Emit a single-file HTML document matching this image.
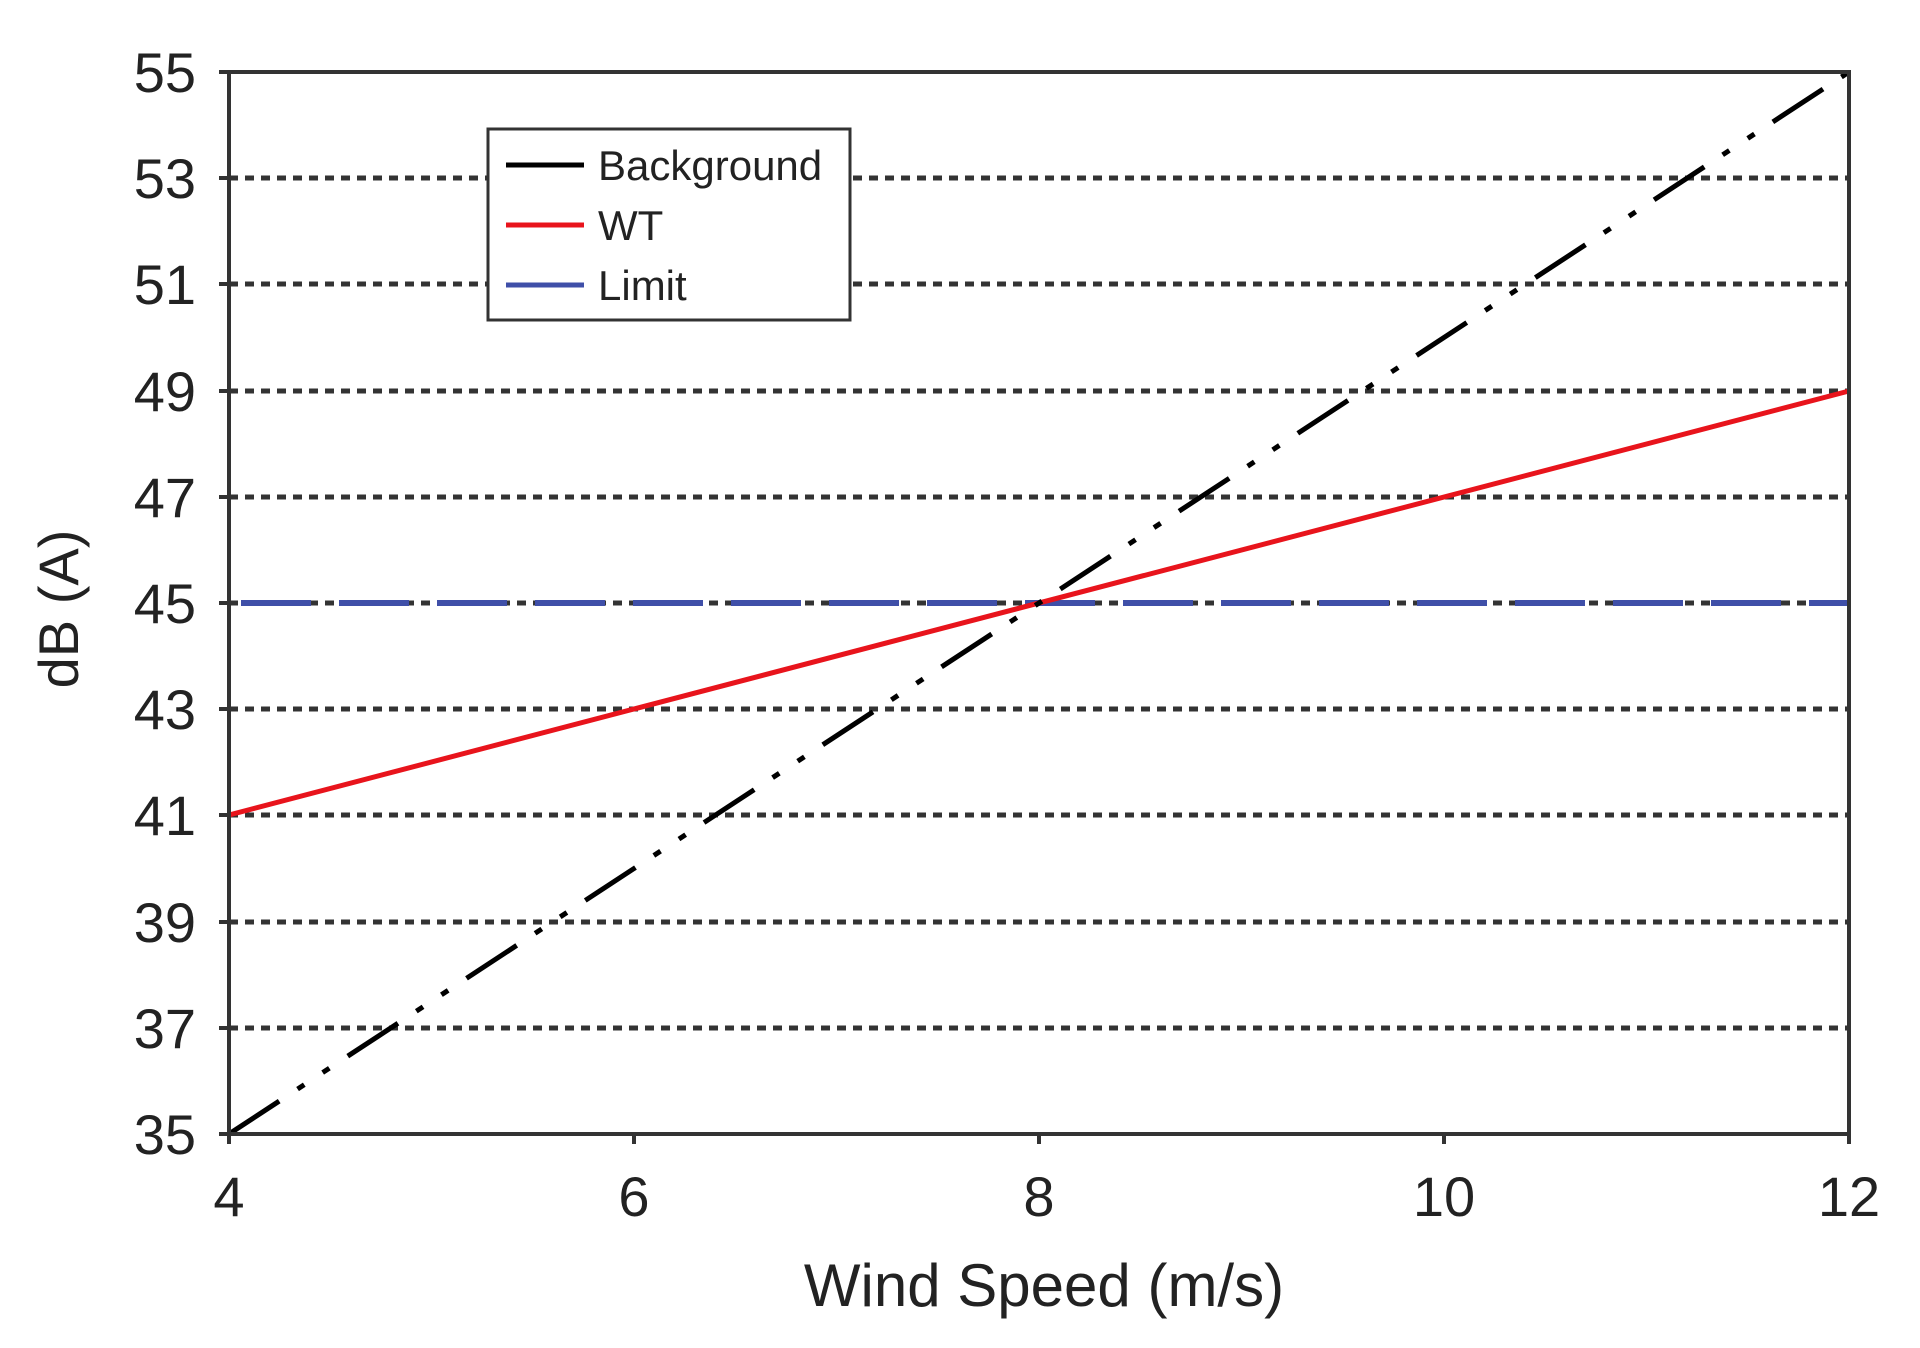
<!DOCTYPE html>
<html><head><style>
html,body{margin:0;padding:0;background:#fff;}
svg{display:block;}
text{font-family:"Liberation Sans",Arial,sans-serif;fill:#222;}
</style></head><body>
<svg width="1920" height="1348" viewBox="0 0 1920 1348">
<g stroke="#333" stroke-width="5" stroke-dasharray="9,7">
<line x1="229" y1="178" x2="1849" y2="178"/>
<line x1="229" y1="284" x2="1849" y2="284"/>
<line x1="229" y1="391" x2="1849" y2="391"/>
<line x1="229" y1="497" x2="1849" y2="497"/>
<line x1="229" y1="603" x2="1849" y2="603"/>
<line x1="229" y1="709" x2="1849" y2="709"/>
<line x1="229" y1="815" x2="1849" y2="815"/>
<line x1="229" y1="922" x2="1849" y2="922"/>
<line x1="229" y1="1028" x2="1849" y2="1028"/>
</g>
<line x1="229" y1="603" x2="1849" y2="603" stroke="#3f4fa8" stroke-width="6" stroke-dasharray="70,28" stroke-dashoffset="-12"/>
<line x1="229" y1="815" x2="1849" y2="391" stroke="#e8141c" stroke-width="5"/>
<line x1="229" y1="1134" x2="1849" y2="72" stroke="#000" stroke-width="5" stroke-dasharray="60,22,8,22,8,22"/>
<rect x="229" y="72" width="1620" height="1062" fill="none" stroke="#333" stroke-width="4"/>
<g stroke="#333" stroke-width="4">
<line x1="219" y1="72" x2="229" y2="72"/><line x1="219" y1="178" x2="229" y2="178"/><line x1="219" y1="284" x2="229" y2="284"/><line x1="219" y1="391" x2="229" y2="391"/><line x1="219" y1="497" x2="229" y2="497"/><line x1="219" y1="603" x2="229" y2="603"/><line x1="219" y1="709" x2="229" y2="709"/><line x1="219" y1="815" x2="229" y2="815"/><line x1="219" y1="922" x2="229" y2="922"/><line x1="219" y1="1028" x2="229" y2="1028"/><line x1="219" y1="1134" x2="229" y2="1134"/>
<line x1="229" y1="1134" x2="229" y2="1144"/><line x1="634" y1="1134" x2="634" y2="1144"/><line x1="1039" y1="1134" x2="1039" y2="1144"/><line x1="1444" y1="1134" x2="1444" y2="1144"/><line x1="1849" y1="1134" x2="1849" y2="1144"/>
</g>
<g font-size="56" text-anchor="end">
<text x="196" y="92">55</text><text x="196" y="198">53</text><text x="196" y="304">51</text><text x="196" y="411">49</text><text x="196" y="517">47</text><text x="196" y="623">45</text><text x="196" y="729">43</text><text x="196" y="835">41</text><text x="196" y="942">39</text><text x="196" y="1048">37</text><text x="196" y="1154">35</text>
</g>
<g font-size="56" text-anchor="middle">
<text x="229" y="1216">4</text><text x="634" y="1216">6</text><text x="1039" y="1216">8</text><text x="1444" y="1216">10</text><text x="1849" y="1216">12</text>
</g>
<text x="1044" y="1306" font-size="60" text-anchor="middle">Wind Speed (m/s)</text>
<text transform="translate(78,609) rotate(-90)" font-size="56" text-anchor="middle">dB (A)</text>
<rect x="488" y="129" width="362" height="191" fill="#fff" stroke="#333" stroke-width="3"/>
<line x1="506" y1="165" x2="584" y2="165" stroke="#000" stroke-width="5"/>
<line x1="506" y1="225" x2="584" y2="225" stroke="#e8141c" stroke-width="5"/>
<line x1="506" y1="285" x2="584" y2="285" stroke="#3f4fa8" stroke-width="5"/>
<g font-size="42"><text x="598" y="180">Background</text><text x="598" y="240">WT</text><text x="598" y="300">Limit</text></g>
</svg>
</body></html>
